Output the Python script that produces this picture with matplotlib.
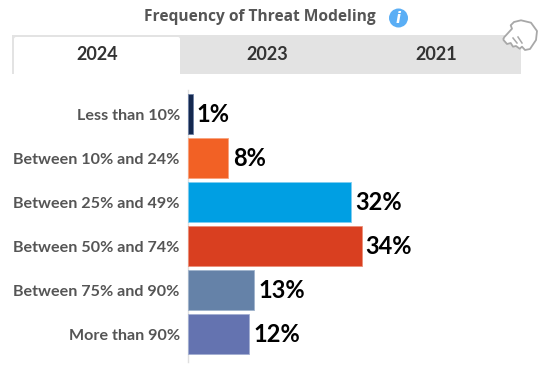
import matplotlib
matplotlib.use("Agg")
import matplotlib.pyplot as plt
from matplotlib.patches import Rectangle, Circle, FancyBboxPatch, PathPatch
from matplotlib.path import Path

title = "Frequency of Threat Modeling"
tabs = ["2024", "2023", "2021"]
categories = ["Less than 10%", "Between 10% and 24%", "Between 25% and 49%",
              "Between 50% and 74%", "Between 75% and 90%", "More than 90%"]
values = [1, 8, 32, 34, 13, 12]
colors = ["#14284f", "#f26125", "#009fe3", "#d93f20", "#6582a8", "#6473b0"]
edges = ["#6c7fa3", "#f9a27c", "#7fcdf0", "#ec8f78", "#a0b4cc", "#a2aed2"]

W, H = 553, 372
fig = plt.figure(figsize=(W / 100, H / 100), dpi=100, facecolor="white")

# overlay in pixel coords for the page furniture
bg = fig.add_axes([0, 0, 1, 1])
bg.axis("off")

bg.text(260, 17, title, ha="center", va="center", family="Open Sans",
        weight="bold", fontsize=11.2, color="#555555")
bg.add_patch(Circle((398.5, 18), 9.5, color="#5aaef5", lw=0))
bg.text(398.5, 18.5, "i", ha="center", va="center", family="DejaVu Sans", weight="bold",
        style="italic", fontsize=10.5, color="white")

# tab strip
bg.add_patch(Rectangle((12, 35), 509, 38.5, color="#e3e3e3", lw=0))
bg.add_patch(FancyBboxPatch((14, 37), 166, 40, boxstyle="round,pad=0,rounding_size=2",
                            fc="white", ec="none"))
bg.add_patch(Rectangle((12, 73.5), 170, 6, color="white", lw=0))
for label, x in zip(tabs, [97, 267, 436]):
    bg.text(x, 55, label, ha="center", va="center", family="Lato", weight="bold",
            fontsize=13, color="#333333")

# hand cursor
hand = [(503.5, 38), (512, 28.7), (510.7, 25.3), (514, 22), (521, 20.3), (531, 22.7),
        (537, 31), (536, 40), (530, 49), (525, 50), (522, 46.7), (519.7, 48.7), (516, 46),
        (513, 46.7), (510.7, 43), (507, 44), (503.5, 40), (503.5, 38)]
bg.add_patch(PathPatch(Path(hand), fc="white", ec="#a8a8a8", lw=1.3, joinstyle="round"))
for (x0, y0), (x1, y1) in [((513, 38), (517, 43)), ((518, 37), (522, 43))]:
    bg.plot([x0, x1], [y0, y1], color="#a8a8a8", lw=1.1)
bg.set_xlim(0, W)
bg.set_ylim(H, 0)

# bars
ax = fig.add_axes([187.5 / W, 1 - 362 / H, (W - 187.5) / W, (362 - 90) / H], facecolor="none")
pos = list(range(len(values)))
ax.barh(pos, values, height=40 / 44, color=colors, edgecolor=edges, linewidth=0.6, zorder=3)
ax.set_ylim((362 - 114) / 44, (90 - 114) / 44)
ax.set_xlim(0, (W - 187.5) / 5.12)
ax.set_yticks(pos)
ax.set_yticklabels(categories, family="Lato", weight="bold", fontsize=11.6, color="#555555")
ax.tick_params(axis="y", length=0, pad=5.5)
ax.set_xticks([])
for s in ["top", "right", "bottom"]:
    ax.spines[s].set_visible(False)
ax.spines["left"].set_color("#e0e0e0")
ax.spines["left"].set_linewidth(1)
ax.spines["left"].set_zorder(1)

for i, v in enumerate(values):
    ax.annotate(f"{v}%", (v, i), xytext=(3, 0), textcoords="offset points", ha="left",
                va="center", family="Lato", weight="bold", fontsize=17, color="black")

fig.savefig("out.png", dpi=100)
